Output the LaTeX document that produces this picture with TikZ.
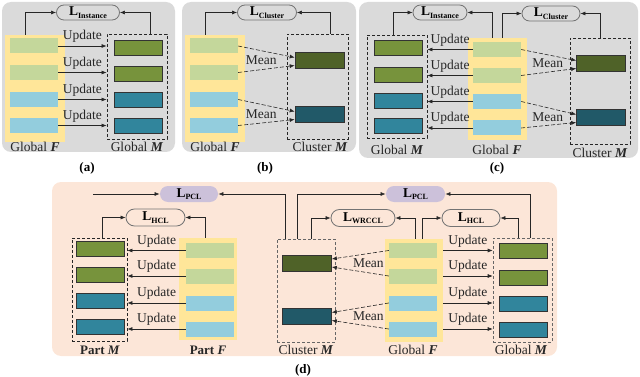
\documentclass[tikz,border=0pt]{standalone}
\usepackage{fontspec}
\setmainfont{Liberation Serif}
\usepackage{tikz}
\usetikzlibrary{arrows.meta, positioning, shapes.misc}

\definecolor{panelgray}{HTML}{DADADA}
\definecolor{panelpeach}{HTML}{FCE6D8}
\definecolor{featyellow}{HTML}{FFE699}
\definecolor{lightgreen}{HTML}{C4D79B}
\definecolor{lightblue}{HTML}{93CDDD}
\definecolor{memgreen}{HTML}{77933C}
\definecolor{memteal}{HTML}{31859C}
\definecolor{clugreen}{HTML}{4F6228}
\definecolor{cluteal}{HTML}{215968}
\definecolor{pclpurple}{HTML}{CCC1DA}

\newcommand{\lossname}[1]{\textbf{L}\raisebox{-2.5pt}{\fontsize{8}{8}\selectfont\bfseries #1}}
\newcommand{\memname}[1]{#1 \textbf{\textit{M}}}
\newcommand{\featname}[1]{#1 \textbf{\textit{F}}}

\begin{document}
\begin{tikzpicture}[
    x=1pt, y=-1pt,
    font=\fontsize{13.5}{15}\selectfont,
    panel/.style={rounded corners=9pt},
    featbox/.style={fill=featyellow, inner sep=0pt},
    membox/.style={draw=black!85, dashed, line width=0.9pt, dash pattern=on 3pt off 2pt, inner sep=0pt},
    thinmem/.style={draw=black!60, dashed, line width=0.6pt, dash pattern=on 3pt off 2pt, inner sep=0pt},
    fbar/.style={inner sep=0pt, minimum width=48pt, minimum height=15pt},
    mbar/.style={draw=black!80, line width=0.6pt, inner sep=0pt, minimum width=48pt, minimum height=15pt},
    cbar/.style={draw=black!80, line width=0.6pt, inner sep=0pt, minimum width=49pt, minimum height=16pt},
    loss/.style={rounded rectangle, draw=black!55, line width=0.8pt, inner sep=0pt, minimum height=15pt},
    lbl/.style={text=black!85, inner sep=1pt},
    captxt/.style={font=\fontsize{13}{15}\selectfont\bfseries},
    arr/.style={-{Latex[length=5pt,width=4pt]}, line width=0.6pt, draw=black!85},
    meanarr/.style={arr, dashed, dash pattern=on 4pt off 2pt}
]
\useasboundingbox (0,0) rectangle (640,377);

% panel backgrounds
\fill[panel, panelgray] (2,2) rectangle (175,152);
\fill[panel, panelgray] (182,2) rectangle (356,152);
\fill[panel, panelgray] (359,2) rectangle (638,158);
\fill[panel, panelpeach] (52,182) rectangle (557,356);

%% (a) instance memory
\node[featbox, minimum width=60pt, minimum height=107pt] (gfa) at (35,88.5) {};
\node[membox, minimum width=60pt, minimum height=105pt] (gma) at (137,86.5) {};
\foreach \y/\c [count=\i] in {46/lightgreen, 72.5/lightgreen, 99.5/lightblue, 125.5/lightblue}
    \node[fbar, fill=\c] (fa\i) at (34,\y) {};
\foreach \y/\c [count=\i] in {48/memgreen, 73.5/memgreen, 100/memteal, 126/memteal}
    \node[mbar, fill=\c] (ma\i) at (138.5,\y) {};
\foreach \i in {1,...,4}
    \draw[arr] (fa\i.east) -- (fa\i.east -| gma.west) node[midway, above=2pt, lbl] {Update};
\node[loss, minimum width=63pt] (lia) at (88,12.5) {\lossname{Instance}};
\draw[arr] ([xshift=-10pt]gfa.north) |- (lia.west);
\draw[arr] ([xshift=13pt]gma.north) |- (lia.east);
\node[lbl] at (35,147) {\featname{Global}};
\node[lbl] at (137,147) {\memname{Global}};
\node[captxt] at (87,168) {(a)};

%% (b) cluster memory
\node[featbox, minimum width=60pt, minimum height=107pt] (gfb) at (215,88.5) {};
\node[membox, minimum width=61pt, minimum height=105pt] (cmb) at (317.5,86.5) {};
\foreach \y/\c [count=\i] in {46/lightgreen, 72.5/lightgreen, 99.5/lightblue, 125.5/lightblue}
    \node[fbar, fill=\c] (fb\i) at (214,\y) {};
\node[cbar, fill=clugreen] (cb1) at (319.5,60.5) {};
\node[cbar, fill=cluteal] (cb2) at (319.5,114.5) {};
\draw[meanarr] (fb1.east) -- ([yshift=3pt]cb1.west);
\draw[meanarr] (fb2.east) -- ([yshift=-5pt]cb1.west);
\draw[meanarr] (fb3.east) -- ([yshift=3pt]cb2.west);
\draw[meanarr] (fb4.east) -- ([yshift=-5pt]cb2.west);
\node[lbl, left=17pt of cb1] {Mean};
\node[lbl, left=17pt of cb2] {Mean};
\node[loss, minimum width=59pt] (lcb) at (267,12.5) {\lossname{Cluster}};
\draw[arr] ([xshift=-10pt]gfb.north) |- (lcb.west);
\draw[arr] ([xshift=12.5pt]cmb.north) |- (lcb.east);
\node[lbl] at (215,147) {\featname{Global}};
\node[lbl] at (320,147) {\memname{Cluster}};
\node[captxt] at (265,168) {(b)};

%% (c) both memories
\node[membox, minimum width=60pt, minimum height=103pt] (gmc) at (397,86.5) {};
\node[featbox, minimum width=59pt, minimum height=102pt] (gfc) at (497.5,89) {};
\node[membox, minimum width=60pt, minimum height=106pt] (cmc) at (600,91) {};
\foreach \y/\c [count=\i] in {48/memgreen, 74.5/memgreen, 100.5/memteal, 126/memteal}
    \node[mbar, fill=\c] (mc\i) at (398,\y) {};
\foreach \y/\c [count=\i] in {49.5/lightgreen, 75.5/lightgreen, 101.5/lightblue, 128/lightblue}
    \node[fbar, fill=\c] (fc\i) at (497,\y) {};
\foreach \i in {1,...,4}
    \draw[arr] (fc\i.west) -- (fc\i.west -| gmc.east) node[midway, above=2pt, lbl] {Update};
\node[cbar, fill=clugreen] (cc1) at (601,63.5) {};
\node[cbar, fill=cluteal] (cc2) at (601,117.5) {};
\draw[meanarr] (fc1.east) -- ([yshift=3pt]cc1.west);
\draw[meanarr] (fc2.east) -- ([yshift=-5pt]cc1.west);
\draw[meanarr] (fc3.east) -- ([yshift=3pt]cc2.west);
\draw[meanarr] (fc4.east) -- ([yshift=-5pt]cc2.west);
\node[lbl, left=12pt of cc1] {Mean};
\node[lbl, left=12pt of cc2] {Mean};
\node[loss, minimum width=54pt] (lic) at (440,12.5) {\lossname{Instance}};
\node[loss, minimum width=58pt] (lcc) at (551,13.5) {\lossname{Cluster}};
\draw[arr] ([xshift=-4pt]gmc.north) |- (lic.west);
\draw[arr] ([xshift=-5.5pt]gfc.north) |- (lic.east);
\draw[arr] ([xshift=4.5pt]gfc.north) |- (lcc.west);
\draw[arr] (cmc.north) |- (lcc.east);
\node[lbl] at (397,150) {\memname{Global}};
\node[lbl] at (497,150) {\featname{Global}};
\node[lbl] at (600,153) {\memname{Cluster}};
\node[captxt] at (497,168) {(c)};

%% (d) part and global branches
\node[membox, minimum width=55pt, minimum height=103pt] (pmd) at (99.5,289.5) {};
\node[featbox, minimum width=58pt, minimum height=102pt] (pfd) at (208,289) {};
\node[thinmem, minimum width=58pt, minimum height=103pt] (cmd) at (306,290.5) {};
\node[featbox, minimum width=58pt, minimum height=103pt] (gfd) at (414,290.5) {};
\node[thinmem, minimum width=59pt, minimum height=104pt] (gmd) at (522.5,290) {};
\foreach \y/\c [count=\i] in {249/memgreen, 275/memgreen, 301/memteal, 327/memteal}
    \node[mbar, fill=\c] (pm\i) at (100,\y) {};
\foreach \y/\c [count=\i] in {250.5/lightgreen, 276/lightgreen, 303/lightblue, 329/lightblue}
    \node[fbar, fill=\c] (pf\i) at (210,\y) {};
\foreach \y/\c [count=\i] in {250.5/lightgreen, 276/lightgreen, 303/lightblue, 329/lightblue}
    \node[fbar, fill=\c] (gf\i) at (413,\y) {};
\foreach \y/\c [count=\i] in {251/memgreen, 278/memgreen, 304/memteal, 330/memteal}
    \node[mbar, fill=\c] (gm\i) at (523,\y) {};
\node[cbar, fill=clugreen] (cd1) at (307,263) {};
\node[cbar, fill=cluteal] (cd2) at (307,316.5) {};
\foreach \i in {1,...,4}
    \draw[arr] (pf\i.west) -- (pf\i.west -| pmd.east) node[midway, above=2pt, lbl] {Update};
\foreach \i in {1,...,4}
    \draw[arr] (gf\i -| gfd.east) -- (gf\i -| gmd.west) node[midway, above=2pt, lbl] {Update};
\draw[meanarr] (gf1.west) -- ([yshift=4pt]cd1.east);
\draw[meanarr] (gf2.west) -- ([yshift=-4pt]cd1.east);
\draw[meanarr] (gf3.west) -- ([yshift=4pt]cd2.east);
\draw[meanarr] (gf4.west) -- ([yshift=-4pt]cd2.east);
\node[lbl, right=20pt of cd1] {Mean};
\node[lbl, right=20pt of cd2] {Mean};
\node[loss, fill=pclpurple, draw=none, minimum width=58pt, minimum height=16pt] (pcl1) at (189,194) {\lossname{PCL}};
\node[loss, fill=pclpurple, draw=none, minimum width=59pt, minimum height=16pt] (pcl2) at (415.5,194) {\lossname{PCL}};
\node[loss, minimum width=59pt, minimum height=17pt] (hcl1) at (155.5,217.5) {\lossname{HCL}};
\node[loss, minimum width=64pt, minimum height=17pt] (wrccl) at (363,218) {\lossname{WRCCL}};
\node[loss, minimum width=58pt, minimum height=17pt] (hcl2) at (471,218) {\lossname{HCL}};
\coordinate (pclin) at (93,194);
\draw[arr] (pclin) -- (pcl1.west);
\draw[arr] ([xshift=-21pt]cmd.north) |- (pcl1.east);
\draw[arr] ([xshift=-9pt]cmd.north) |- (pcl2.west);
\draw[arr] ([xshift=7.5pt]gmd.north) |- (pcl2.east);
\draw[arr] ([xshift=2.5pt]pmd.north) |- (hcl1.west);
\draw[arr] ([xshift=-3pt]pfd.north) |- (hcl1.east);
\draw[arr] ([xshift=5pt]cmd.north) |- (wrccl.west);
\draw[arr] ([xshift=1pt]gfd.north) |- (wrccl.east);
\draw[arr] ([xshift=8pt]gfd.north) |- (hcl2.west);
\draw[arr] ([xshift=-4.5pt]gmd.north) |- (hcl2.east);
\node[lbl, captxt] at (100,350) {Part \textit{M}};
\node[lbl, captxt] at (208,350) {Part \textit{F}};
\node[lbl] at (306,350) {\memname{Cluster}};
\node[lbl] at (413,350) {\featname{Global}};
\node[lbl] at (521,350) {\memname{Global}};
\node[captxt] at (303,370) {(d)};

\end{tikzpicture}
\end{document}
